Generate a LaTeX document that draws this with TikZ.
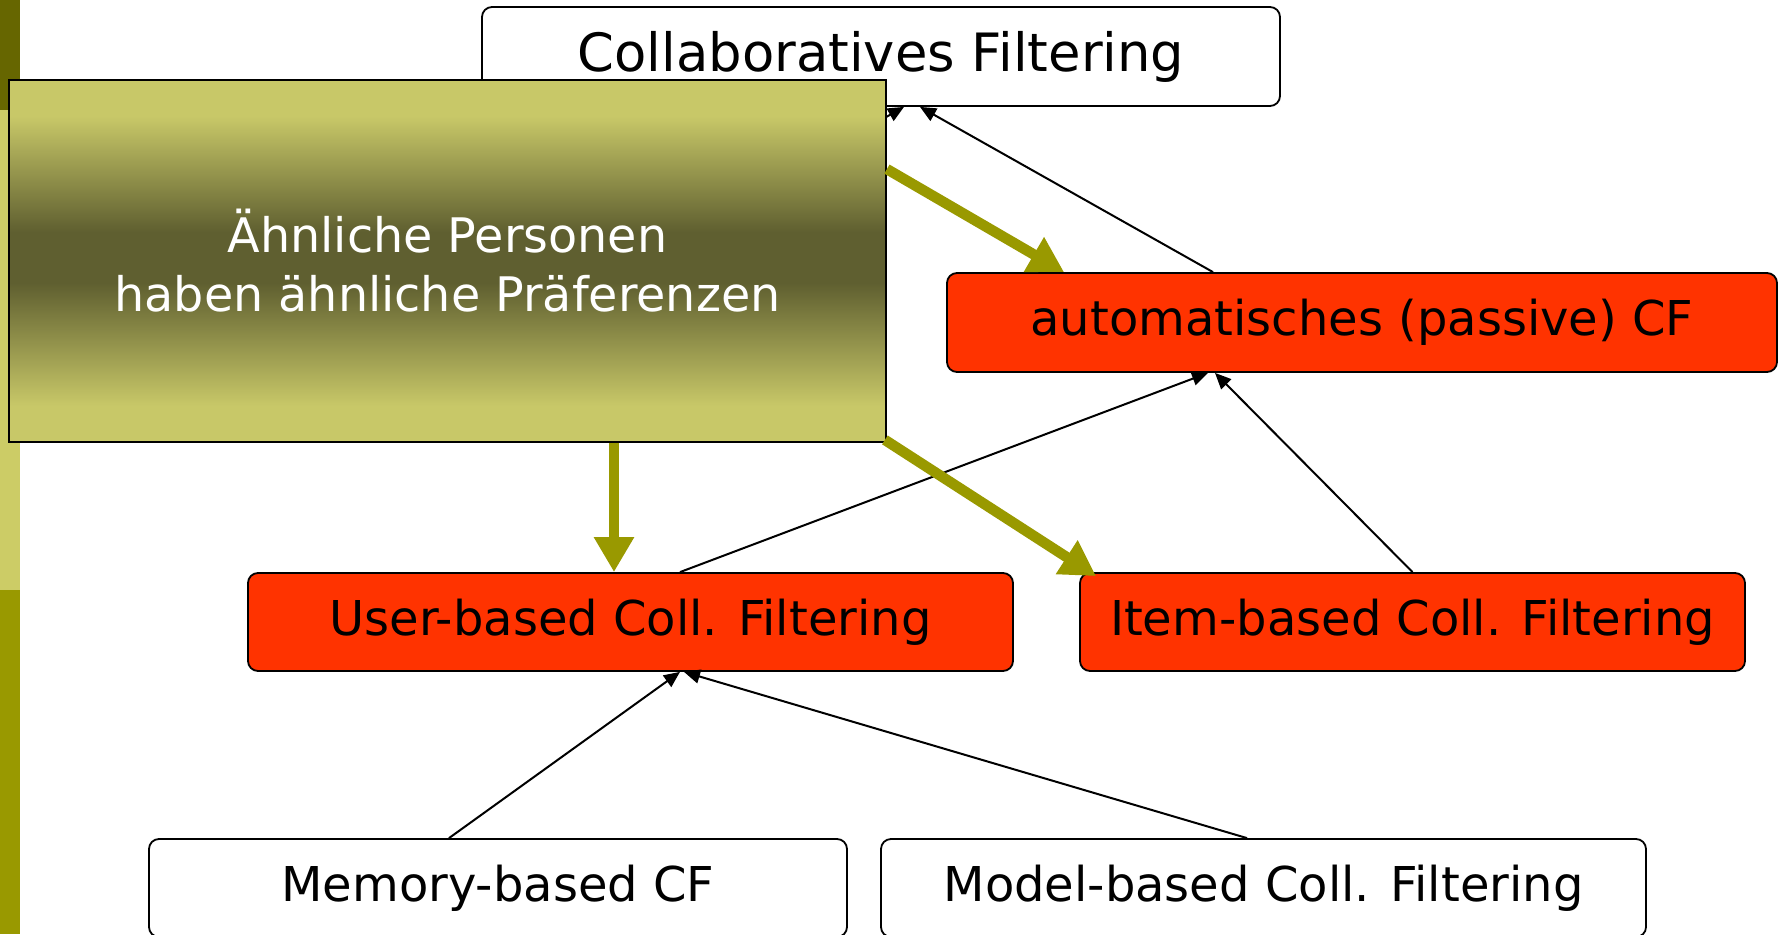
\documentclass[tikz,border=0pt]{standalone}
\usepackage{fontspec}
\setmainfont{DejaVu Sans}
\usetikzlibrary{arrows.meta}
\definecolor{gl}{HTML}{C8C868}
\definecolor{gd}{HTML}{5F5F30}
\definecolor{stripdark}{HTML}{666600}
\definecolor{striplight}{HTML}{CCCC66}
\definecolor{stripolive}{HTML}{999900}
\definecolor{boxred}{HTML}{FF3300}
\definecolor{thickolive}{HTML}{999900}
\pgfdeclareverticalshading{greenshade}{100bp}{color(0bp)=(gl); color(30bp)=(gl); color(47bp)=(gd); color(54bp)=(gd); color(70bp)=(gl); color(100bp)=(gl)}
\tikzset{
  whitebox/.style={draw=black, line width=1.8pt, fill=white, rounded corners=10pt, inner sep=0pt, font=\fontsize{48}{58}\selectfont},
  redbox/.style={draw=black, line width=1.8pt, fill=boxred, rounded corners=10pt, inner sep=0pt, font=\fontsize{48}{58}\selectfont},
  thinarrow/.style={draw=black, line width=2pt, -{Triangle[length=16pt,width=14pt]}},
  thickarrow/.style={draw=thickolive, line width=10.5pt, -{Triangle[length=35pt,width=38pt]}},
}
\begin{document}
\begin{tikzpicture}[x=1pt,y=-1pt]
\useasboundingbox (0,0) rectangle (1782,934);
\clip (0,0) rectangle (1782,934);
% left strip
\fill[stripdark] (0,0) rectangle (20,110);
\fill[striplight] (0,110) rectangle (20,590);
\fill[stripolive] (0,590) rectangle (20,934);
% boxes
\node[whitebox, minimum width=798pt, minimum height=99pt, font=\fontsize{52.8}{60}\selectfont] (collab) at (881,56.5) {Collaboratives Filtering};
\node[redbox, minimum width=830pt, minimum height=99pt] (auto) at (1362,322.5) {automatisches (passive) CF};
\node[redbox, minimum width=765pt, minimum height=98pt] (user) at (630.5,622) {User-based Coll. Filtering};
\node[redbox, minimum width=665pt, minimum height=98pt] (item) at (1412.5,622) {Item-based Coll. Filtering};
\node[whitebox, minimum width=698pt, minimum height=98pt] (memory) at (498,888) {Memory-based CF};
\node[whitebox, minimum width=765pt, minimum height=98pt] (model) at (1263.5,888) {Model-based Coll. Filtering};
\coordinate (hidden) at (611,273);
% thin connectors
\draw[thinarrow] (hidden) -- ([xshift=23pt]collab.south);
\draw[thinarrow] ([xshift=-149pt]auto.north) -- ([xshift=39pt]collab.south);
\draw[thinarrow] ([xshift=49.5pt]user.north) -- ([xshift=-154pt]auto.south);
\draw[thinarrow] (item.north) -- ([xshift=-147pt]auto.south);
\draw[thinarrow] ([xshift=-49pt]memory.north) -- ([xshift=49.5pt]user.south);
\draw[thinarrow] ([xshift=-16.5pt]model.north) -- ([xshift=53.5pt]user.south);
% green box
\node[draw=black, line width=1.8pt, shading=greenshade, minimum width=877pt, minimum height=362pt, inner sep=0pt, align=center, text=white, font=\fontsize{47.6}{59}\selectfont] (green) at (447.5,261) {Ähnliche Personen\\haben ähnliche Präferenzen};
% thick arrows
\draw[thickarrow] ([yshift=-90pt]green.north east) -- ([xshift=118pt]auto.north west);
\draw[thickarrow] ([xshift=166.5pt]green.south) -- ([xshift=-16.5pt]user.north);
\draw[thickarrow] ([xshift=-2pt,yshift=3pt]green.south east) -- ([xshift=17pt,yshift=-4pt]item.north west);
\end{tikzpicture}
\end{document}
